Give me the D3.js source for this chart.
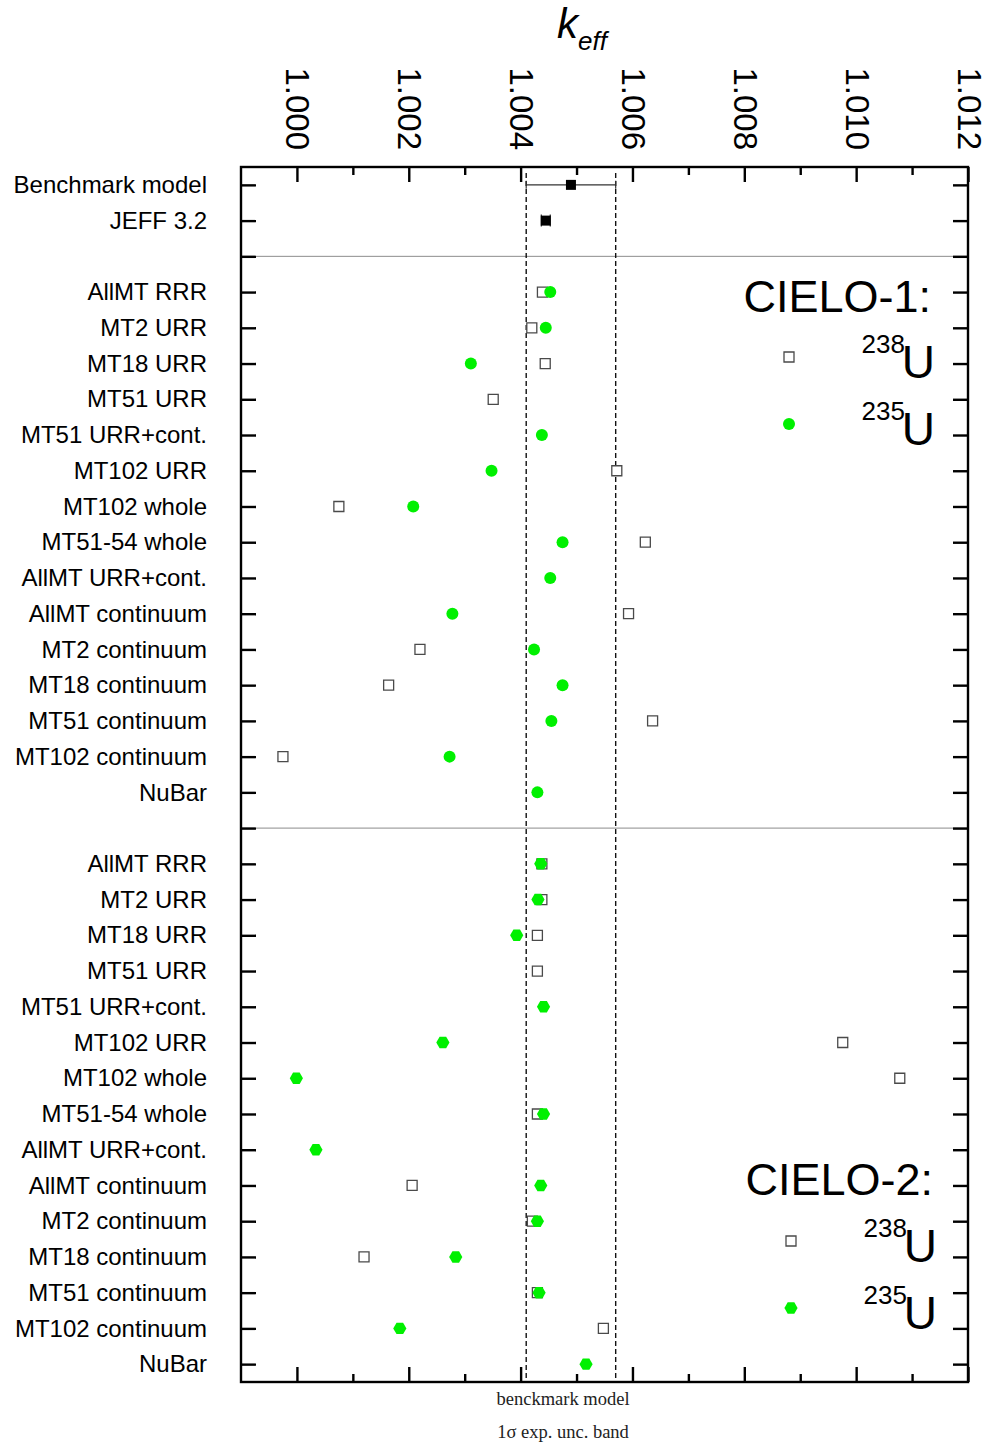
<!DOCTYPE html>
<html>
<head>
<meta charset="utf-8">
<script src="https://cdn.jsdelivr.net/npm/d3@7"></script>
<style>
  body { margin: 0; background: #fff; }
  svg { display: block; font-family: "Liberation Sans", Arial, sans-serif; }
</style>
</head>
<body>
<svg id="chart" width="990" height="1445"></svg>
<script>
// Row labels (top to bottom)
const referenceLabels = ["Benchmark model", "JEFF 3.2"];
const variantLabels = ["AllMT RRR", "MT2 URR", "MT18 URR", "MT51 URR", "MT51 URR+cont.",
  "MT102 URR", "MT102 whole", "MT51-54 whole", "AllMT URR+cont.", "AllMT continuum",
  "MT2 continuum", "MT18 continuum", "MT51 continuum", "MT102 continuum", "NuBar"];

// Reference k-eff values
const benchmarkKeff = 1.0049;
const benchmarkUnc = 0.0008;
const jeffKeff = 1.00445;
const jeffUnc = 0.00008;

// CIELO-1 results per variant (null = not computed)
const cielo1U238 = [1.00439, 1.00420, 1.00444, 1.00351, null, 1.00572, 1.00075, 1.00623,
  null, 1.00593, 1.00220, 1.00164, 1.00636, 0.99975, null];
const cielo1U235 = [1.00453, 1.00445, 1.00311, null, 1.00438, 1.00348, 1.00208, 1.00475,
  1.00453, 1.00278, 1.00424, 1.00475, 1.00455, 1.00273, 1.00430];

// CIELO-2 results per variant
const cielo2U238 = [1.00438, 1.00438, 1.00430, 1.00430, null, 1.00976, 1.01078, 1.00430,
  null, 1.00206, 1.00421, 1.00120, 1.00430, 1.00548, null];
const cielo2U235 = [1.00436, 1.00431, 1.00393, null, 1.00441, 1.00261, 0.99999, 1.00441,
  1.00034, 1.00436, 1.00430, 1.00284, 1.00433, 1.00184, 1.00517];

// Axis ticks
const majorTicks = [1.000, 1.002, 1.004, 1.006, 1.008, 1.010, 1.012];
const minorTicks = [1.001, 1.003, 1.005, 1.007, 1.009, 1.011];

// Row positions: 1-2 reference, 3 separator, 4-18 CIELO-1, 19 separator, 20-34 CIELO-2
const rowLabel = {};
referenceLabels.forEach((l, i) => rowLabel[i + 1] = l);
variantLabels.forEach((l, i) => { rowLabel[i + 4] = l; rowLabel[i + 20] = l; });
const separatorRows = [3, 19];
const allRows = d3.range(1, 35);

const svg = d3.select("#chart");
const L = 241, R = 968, T = 167, B = 1382;

const x = d3.scaleLinear().domain([0.999, 1.012]).range([L, R]);
const y = d3.scaleLinear().domain([0.5, 34.5]).range([T, B]);

const GREEN = "#00f000";
const SQ_STROKE = "#4a4a4a";

// Separator lines
svg.append("g").selectAll("line").data(separatorRows).join("line")
  .attr("x1", L).attr("x2", R)
  .attr("y1", d => y(d)).attr("y2", d => y(d))
  .attr("stroke", "#8c8c8c").attr("stroke-width", 1);

// Benchmark 1-sigma band boundaries
svg.append("g").selectAll("line")
  .data([benchmarkKeff - benchmarkUnc, benchmarkKeff + benchmarkUnc]).join("line")
  .attr("x1", d => x(d)).attr("x2", d => x(d))
  .attr("y1", T + 6).attr("y2", B)
  .attr("stroke", "#111").attr("stroke-width", 1.4)
  .attr("stroke-dasharray", "5,3");

// Axes with inward ticks
function styleAxis(g) {
  g.select(".domain").remove();
  g.selectAll(".tick line").attr("stroke", "#000").attr("stroke-width", 2.4);
}
const topAxis = svg.append("g").attr("transform", `translate(0,${T})`)
  .call(d3.axisTop(x).tickValues(majorTicks).tickSize(-15).tickFormat(d3.format(".3f")))
  .call(styleAxis);
topAxis.selectAll(".tick text")
  .attr("transform", "rotate(90)")
  .attr("x", -17).attr("y", 11).attr("dy", 0)
  .attr("text-anchor", "end")
  .attr("font-size", 33).attr("fill", "#000")
  .attr("font-family", "'Liberation Sans', Arial, sans-serif");
svg.append("g").attr("transform", `translate(0,${T})`)
  .call(d3.axisTop(x).tickValues(minorTicks).tickSize(-8).tickFormat(""))
  .call(styleAxis);
svg.append("g").attr("transform", `translate(0,${B})`)
  .call(d3.axisBottom(x).tickValues(majorTicks).tickSize(-15).tickFormat(""))
  .call(styleAxis);
svg.append("g").attr("transform", `translate(0,${B})`)
  .call(d3.axisBottom(x).tickValues(minorTicks).tickSize(-8).tickFormat(""))
  .call(styleAxis);

const leftAxis = svg.append("g").attr("transform", `translate(${L},0)`)
  .call(d3.axisLeft(y).tickValues(allRows).tickSize(-15).tickPadding(34)
    .tickFormat(d => rowLabel[d] || ""))
  .call(styleAxis);
leftAxis.selectAll(".tick text")
  .attr("font-size", 24).attr("fill", "#000")
  .attr("font-family", "'Liberation Sans', Arial, sans-serif");
svg.append("g").attr("transform", `translate(${R},0)`)
  .call(d3.axisRight(y).tickValues(allRows).tickSize(-15).tickFormat(""))
  .call(styleAxis);

// Frame
svg.append("rect").attr("x", L).attr("y", T).attr("width", R - L).attr("height", B - T)
  .attr("fill", "none").attr("stroke", "#000").attr("stroke-width", 2.4);

// Marker helpers
const squarePath = d3.symbol(d3.symbolSquare, 100)();
function hexPath(r) {
  const pts = d3.range(6).map(k => {
    const a = k * Math.PI / 3;
    return [r * Math.cos(a), r * Math.sin(a)];
  });
  return "M" + pts.map(p => p.join(",")).join("L") + "Z";
}

function seriesData(values, offset) {
  return values.map((v, i) => ({ v, row: i + offset })).filter(d => d.v !== null);
}

// U-238 squares
[[cielo1U238, 4], [cielo2U238, 20]].forEach(([vals, off]) => {
  svg.append("g").selectAll("path").data(seriesData(vals, off)).join("path")
    .attr("d", squarePath)
    .attr("transform", d => `translate(${x(d.v)},${y(d.row)})`)
    .attr("fill", "#fff").attr("stroke", SQ_STROKE).attr("stroke-width", 1.3);
});

// U-235: circles (CIELO-1) and hexagons (CIELO-2)
svg.append("g").selectAll("circle").data(seriesData(cielo1U235, 4)).join("circle")
  .attr("cx", d => x(d.v)).attr("cy", d => y(d.row)).attr("r", 6)
  .attr("fill", GREEN);
svg.append("g").selectAll("path").data(seriesData(cielo2U235, 20)).join("path")
  .attr("d", hexPath(6.6))
  .attr("transform", d => `translate(${x(d.v)},${y(d.row)})`)
  .attr("fill", GREEN);

// Benchmark and JEFF 3.2 with error bars
const refs = [
  { v: benchmarkKeff, e: benchmarkUnc, row: 1, cap: 4 },
  { v: jeffKeff, e: jeffUnc, row: 2, cap: 6 }
];
const refG = svg.append("g");
refs.forEach(d => {
  const yy = y(d.row);
  refG.append("line").attr("x1", x(d.v - d.e)).attr("x2", x(d.v + d.e))
    .attr("y1", yy).attr("y2", yy).attr("stroke", "#333").attr("stroke-width", 1.2);
  [d.v - d.e, d.v + d.e].forEach(c => {
    refG.append("line").attr("x1", x(c)).attr("x2", x(c))
      .attr("y1", yy - d.cap).attr("y2", yy + d.cap)
      .attr("stroke", "#333").attr("stroke-width", 1.2);
  });
  refG.append("path").attr("d", squarePath)
    .attr("transform", `translate(${x(d.v)},${yy})`)
    .attr("fill", "#000");
});

// Axis title k_eff
const title = svg.append("text").attr("x", 557).attr("y", 38)
  .attr("font-size", 42).attr("font-style", "italic").attr("fill", "#000");
title.append("tspan").text("k");
title.append("tspan").attr("font-size", 26).attr("dy", 12).text("eff");

// Legends
function legend(name, yTitle, y238, y235, xs, xr, hex) {
  const g = svg.append("g").attr("fill", "#000");
  g.append("text").attr("x", xr - 4).attr("y", yTitle).attr("text-anchor", "end")
    .attr("font-size", 45).text(name);
  [[y238, "238"], [y235, "235"]].forEach(([yy, iso]) => {
    g.append("text").attr("x", xr).attr("y", yy + 10).attr("text-anchor", "end")
      .attr("font-size", 46).text("U");
    g.append("text").attr("x", xr - 30).attr("y", yy - 15).attr("text-anchor", "end")
      .attr("font-size", 26).text(iso);
  });
  g.append("path").attr("d", squarePath)
    .attr("transform", `translate(${xs},${y238 - 11})`)
    .attr("fill", "#fff").attr("stroke", SQ_STROKE).attr("stroke-width", 1.3);
  if (hex) {
    g.append("path").attr("d", hexPath(6.6))
      .attr("transform", `translate(${xs},${y235 - 11})`).attr("fill", GREEN);
  } else {
    g.append("circle").attr("cx", xs).attr("cy", y235 - 11).attr("r", 6).attr("fill", GREEN);
  }
}
legend("CIELO-1:", 312, 368, 435, 789, 935, false);
legend("CIELO-2:", 1195, 1252, 1319, 791, 937, true);

// Band annotation below the plot
const note = svg.append("g").attr("font-family", "'Liberation Serif', 'Times New Roman', serif")
  .attr("font-size", 18.5).attr("text-anchor", "middle").attr("fill", "#222");
note.append("text").attr("x", 563).attr("y", 1405).text("benckmark model");
note.append("text").attr("x", 563).attr("y", 1438).text("1σ exp. unc. band");
</script>
</body>
</html>
